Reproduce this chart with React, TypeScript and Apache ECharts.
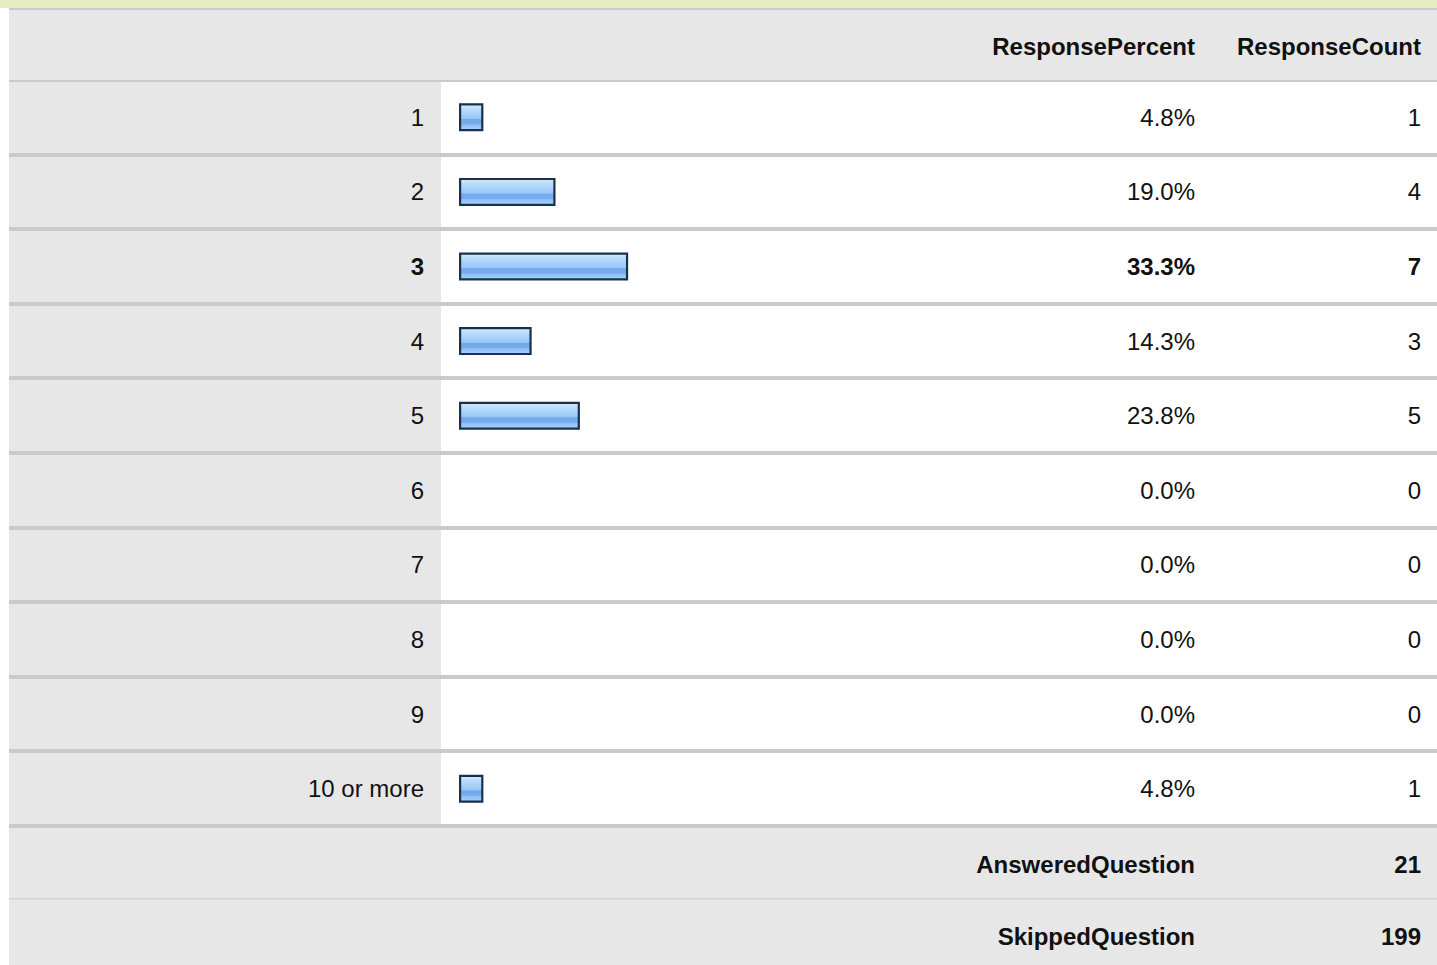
import React, { useEffect, useRef } from "react";
import * as echarts from "echarts";

const categories = ["1", "2", "3", "4", "5", "6", "7", "8", "9", "10 or more"];
const percents = [4.8, 19.0, 33.3, 14.3, 23.8, 0.0, 0.0, 0.0, 0.0, 4.8];
const counts = [1, 4, 7, 3, 5, 0, 0, 0, 0, 1];
const headerLabels = ["ResponsePercent", "ResponseCount"];
const footerLabels = ["AnsweredQuestion", "SkippedQuestion"];
const footerValues = [21, 199];

const W = 1437;
const H = 965;
const GRID_TOP = 80;
const ROW_H = 74.6;
const GRID_LEFT = 459;
const GRID_W = 508;
const FONT = "'Liberation Sans', Arial, sans-serif";
const GRAY = "#e7e7e7";
const LINE = "#cacaca";
const TXT = "#111111";

export default function App() {
  const ref = useRef<HTMLDivElement>(null);
  useEffect(() => {
    if (!ref.current) return;
    const chart = echarts.init(ref.current, undefined, { renderer: "svg" });
    const maxIdx = percents.indexOf(Math.max(...percents));
    const n = categories.length;
    const gridBottomY = GRID_TOP + ROW_H * n;

    const graphics: any[] = [];
    graphics.push({ type: "rect", shape: { x: 0, y: 0, width: W, height: 8 }, style: { fill: "#e6ebc1" }, z: -10 });
    graphics.push({ type: "rect", shape: { x: 9, y: 8, width: W - 9, height: 2 }, style: { fill: LINE }, z: -10 });
    graphics.push({ type: "rect", shape: { x: 9, y: 10, width: W - 9, height: GRID_TOP - 10 }, style: { fill: GRAY }, z: -10 });
    graphics.push({ type: "rect", shape: { x: 9, y: GRID_TOP, width: W - 9, height: 2 }, style: { fill: LINE }, z: -9 });
    graphics.push({ type: "rect", shape: { x: 9, y: GRID_TOP + 2, width: 432, height: gridBottomY - GRID_TOP - 2 }, style: { fill: GRAY }, z: -10 });
    for (let k = 1; k <= n; k++) {
      const y = GRID_TOP + ROW_H * k;
      graphics.push({ type: "rect", shape: { x: 9, y: Math.round(y - 2), width: W - 9, height: 4 }, style: { fill: LINE }, z: -8 });
    }
    const fTop = Math.round(gridBottomY + 2);
    graphics.push({ type: "rect", shape: { x: 9, y: fTop, width: W - 9, height: H - fTop }, style: { fill: GRAY }, z: -10 });
    graphics.push({ type: "rect", shape: { x: 9, y: fTop + 70, width: W - 9, height: 1.5 }, style: { fill: "#d2d2d2" }, z: -8 });

    const txt = (x: number, y: number, s: string) => ({
      type: "text",
      x,
      y,
      style: { text: s, fill: TXT, font: `bold 24px ${FONT}`, textAlign: "right", textVerticalAlign: "middle" },
      z: 5,
    });
    graphics.push(txt(1195, 46, headerLabels[0]));
    graphics.push(txt(1421, 46, headerLabels[1]));
    graphics.push(txt(1195, fTop + 36, footerLabels[0]));
    graphics.push(txt(1421, fTop + 36, String(footerValues[0])));
    graphics.push(txt(1195, fTop + 108, footerLabels[1]));
    graphics.push(txt(1421, fTop + 108, String(footerValues[1])));

    const labelFmt = (v: string, i: number) => (i === maxIdx ? `{b|${v}}` : `{n|${v}}`);
    const rich = {
      n: { fontSize: 24, fontFamily: FONT, color: TXT },
      b: { fontSize: 24, fontFamily: FONT, color: TXT, fontWeight: "bold" },
    };
    const catAxis = (data: string[], position: string, margin: number, align: string) => ({
      type: "category",
      data,
      inverse: true,
      position,
      gridIndex: 0,
      axisLine: { show: false },
      axisTick: { show: false },
      splitLine: { show: false },
      axisLabel: { margin, align, formatter: labelFmt, rich, fontSize: 24, fontFamily: FONT, color: TXT, interval: 0 },
    });

    chart.setOption({
      animation: false,
      backgroundColor: "#ffffff",
      textStyle: { fontFamily: FONT },
      grid: { left: GRID_LEFT, top: GRID_TOP, width: GRID_W, height: ROW_H * n, containLabel: false },
      xAxis: { type: "value", min: 0, max: 100, show: false },
      yAxis: [
        catAxis(categories, "left", GRID_LEFT - 424, "right"),
        catAxis(percents.map((p) => p.toFixed(1) + "%"), "right", 1195 - (GRID_LEFT + GRID_W), "right"),
        catAxis(counts.map((c) => String(c)), "right", 1421 - (GRID_LEFT + GRID_W), "right"),
      ],
      graphic: { elements: graphics },
      series: [
        {
          type: "bar",
          yAxisIndex: 0,
          data: percents.map((p) => (p > 0 ? p : "-")),
          barWidth: 28,
          itemStyle: {
            borderColor: "#19304f",
            borderWidth: 2.2,
            color: new echarts.graphic.LinearGradient(0, 0, 0, 1, [
              { offset: 0, color: "#d8eafc" },
              { offset: 0.2, color: "#b9dafb" },
              { offset: 0.45, color: "#a0cdf9" },
              { offset: 0.55, color: "#98c7f7" },
              { offset: 0.58, color: "#74a9ed" },
              { offset: 0.75, color: "#77abee" },
              { offset: 0.8, color: "#8ec1f6" },
              { offset: 1, color: "#a6d1fb" },
            ]),
          },
          z: 3,
        },
      ],
    });
    return () => chart.dispose();
  }, []);
  return <div ref={ref} style={{ position: "fixed", left: 0, top: 0, width: W, height: H }} />;
}
